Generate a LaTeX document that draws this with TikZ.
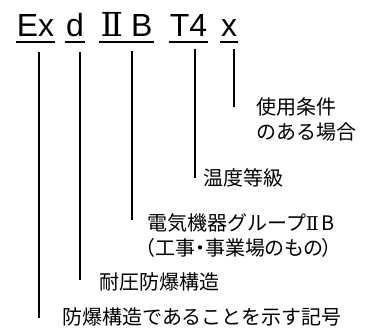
\documentclass[tikz,border=0pt]{standalone}
\usepackage{fontspec}
\setmainfont{Liberation Sans}
\newfontfamily\jp{Noto Sans CJK JP}
\newfontfamily\jpp[RawFeature=+palt]{Noto Sans CJK JP}
\newfontfamily\romfont{DejaVu Serif}
\newcommand{\codefont}{\fontsize{32}{38}\selectfont}
\newcommand{\lblfont}{\jp\fontsize{20}{25}\selectfont}
\begin{document}
\begin{tikzpicture}[x=1pt,y=-1pt,
  code/.style={font=\codefont, inner xsep=1pt, inner ysep=0pt, anchor=base},
  lbl/.style={font=\lblfont, anchor=base west, inner sep=0pt, align=left},
  uline/.style={line width=1.7pt},
  leader/.style={line width=1.2pt}]
\useasboundingbox (0,0) rectangle (373,331);
% code parts
\node[code] (ex) at (35.5,37) {Ex};
\node[code] (d) at (75,37) {d};
\node[code] (grp) at (126.5,37) {{\romfont\fontsize{33}{36}\selectfont Ⅱ}\hspace{8pt}B};
\node[code] (temp) at (188.5,37) {T4};
\node[code] (cond) at (229,37) {x};
\foreach \n in {ex,d,grp,temp,cond}
  \draw[uline] ([yshift=-5pt]\n.base west) -- ([yshift=-5pt]\n.base east);
% labels (base anchor = baseline of the last line)
\node[lbl] (lcond) at (256,139.6) {使用条件\\のある場合};
\node[lbl] (ltemp) at (203,185.6) {温度等級};
\node[lbl] (lgrp) at (147,255.6) {電気機器グループ{\romfont\fontsize{19}{25}\selectfont Ⅱ}\hspace{3pt}B\\{\jpp\kern-2pt（工事・事業場のもの）}};
\node[lbl] (ld) at (99,289.6) {耐圧防爆構造};
\node[lbl] (lex) at (62,324.6) {防爆構造であることを示す記号};
% leader lines
\coordinate (ex-t) at (39,52);   \coordinate (ex-b) at (39,318);
\coordinate (d-t) at (80,52);    \coordinate (d-b) at (80,280);
\coordinate (grp-t) at (132,51); \coordinate (grp-b) at (132,220);
\coordinate (temp-t) at (195,49);\coordinate (temp-b) at (195,178);
\coordinate (cond-t) at (234,49);\coordinate (cond-b) at (234,107);
\foreach \n in {ex,d,grp,temp,cond}
  \draw[leader] (\n-t) -- (\n-b);
\end{tikzpicture}
\end{document}
